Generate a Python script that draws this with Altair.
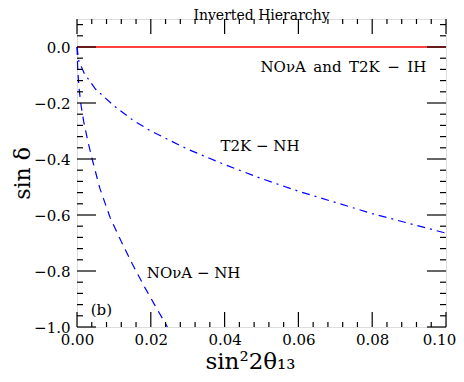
import altair as alt
import pandas as pd

# ---- data ----
nova_x = [0.0, 0.0002, 0.0005, 0.001, 0.0018, 0.003, 0.0041, 0.0062, 0.009, 0.012, 0.015, 0.018, 0.021, 0.0245]
nova_y = [0.0, -0.08, -0.14, -0.20, -0.265, -0.34, -0.40, -0.505, -0.61, -0.695, -0.775, -0.85, -0.92, -1.0]

t2k_x = [0.0, 0.0005, 0.002, 0.005, 0.01, 0.015, 0.02, 0.03, 0.04, 0.05, 0.06, 0.07, 0.08, 0.09, 0.1]
t2k_y = [0.0, -0.05, -0.095, -0.15, -0.21, -0.26, -0.30, -0.365, -0.42, -0.47, -0.515, -0.555, -0.595, -0.63, -0.665]

ih_x = [0.0, 0.1]
ih_y = [0.0, 0.0]

label_text = ["NOνA\u2002and\u2002T2K\u2002−\u2002IH", "T2K − NH", "NOνA − NH", "(b)"]
label_x = [0.0722, 0.0496, 0.0316, 0.0066]
label_y = [-0.072, -0.353, -0.808, -0.94]

x_major = [0.0, 0.02, 0.04, 0.06, 0.08, 0.1]
x_minor = [round(i * 0.004, 3) for i in range(26) if i % 5 != 0]
y_major = [-1.0, -0.8, -0.6, -0.4, -0.2, 0.0]
y_minor = [round(-1.0 + i * 0.04, 2) for i in range(28) if i % 5 != 0]

W, H = 369, 308
SERIF = "DejaVu Serif"

xs = alt.Scale(domain=[0, 0.1], nice=False, zero=False)
ys = alt.Scale(domain=[-1.0, 0.1], nice=False, zero=False)

xaxis = alt.Axis(values=x_major, format=".2f", ticks=False, tickSize=0, domain=False, grid=False,
                 labelFont=SERIF, labelFontSize=15, labelColor="black", labelPadding=5, labelFlush=False,
                 labelOffset={"condition": {"test": "datum.value >= 0.099", "value": -7}, "value": 0},
                 title="sin²2θ₁₃", titleFont=SERIF, titleFontSize=23, titleFontWeight="normal",
                 titleColor="black", titleX=173, titleY=41, titleBaseline="alphabetic")
yaxis = alt.Axis(values=y_major, format=".1f", ticks=False, tickSize=0, domain=False, grid=False,
                 labelFont=SERIF, labelFontSize=15, labelColor="black", labelPadding=7, labelFlush=False,
                 title="sin δ", titleFont=SERIF, titleFontSize=22, titleFontWeight="normal",
                 titleColor="black", titleX=-55, titleY=H / 2, titleAngle=-90,
                 titleBaseline="middle", titleAlign="center")


def X(field):
    return alt.X(field, scale=xs, axis=xaxis)


def Y(field):
    return alt.Y(field, scale=ys, axis=yaxis)


ih_df = pd.DataFrame({"x": ih_x, "y": ih_y})
nova_df = pd.DataFrame({"x": nova_x, "y": nova_y})
t2k_df = pd.DataFrame({"x": t2k_x, "y": t2k_y})
lab_df = pd.DataFrame({"x": label_x, "y": label_y, "t": label_text})

ih = alt.Chart(ih_df).mark_line(color="#ff0000", strokeWidth=1.3).encode(x=X("x:Q"), y=Y("y:Q"))

nova = alt.Chart(nova_df).mark_line(color="#0000ff", strokeWidth=1.2, strokeDash=[8, 6]).encode(
    x=X("x:Q"), y=Y("y:Q"))

t2k = alt.Chart(t2k_df).mark_line(color="#0000ff", strokeWidth=1.2, strokeDash=[8, 5, 2, 5]).encode(
    x=X("x:Q"), y=Y("y:Q"))

labels = alt.Chart(lab_df).mark_text(font=SERIF, fontSize=15, color="black",
                                     align="center", baseline="middle").encode(
    x=X("x:Q"), y=Y("y:Q"), text="t:N")


def xticks(vals, length):
    df = pd.DataFrame({"v": vals})
    bot = alt.Chart(df).mark_rule(color="black", strokeWidth=1.2).encode(
        x=X("v:Q"), y=alt.value(H), y2=alt.value(H - length))
    top = alt.Chart(df).mark_rule(color="black", strokeWidth=1.2).encode(
        x=X("v:Q"), y=alt.value(0), y2=alt.value(length))
    return [bot, top]


def yticks(vals, length):
    df = pd.DataFrame({"v": vals})
    left = alt.Chart(df).mark_rule(color="black", strokeWidth=1.2).encode(
        y=Y("v:Q"), x=alt.value(0), x2=alt.value(length))
    right = alt.Chart(df).mark_rule(color="black", strokeWidth=1.2).encode(
        y=Y("v:Q"), x=alt.value(W), x2=alt.value(W - length))
    return [left, right]


tick_layers = xticks(x_major, 15) + xticks(x_minor, 5) + yticks(y_major, 19) + yticks(y_minor, 6)

chart = alt.layer(ih, nova, t2k, labels, *tick_layers).properties(
    width=W, height=H,
    title=alt.TitleParams("Inverted Hierarchy", font=SERIF, fontSize=14, fontWeight="normal",
                          color="black", offset=-5, anchor="middle"),
    autosize=alt.AutoSizeParams(type="none"),
    padding={"left": 69, "top": 11, "right": 10, "bottom": 47},
).configure_view(stroke="black", strokeWidth=1.5).configure(background="white")

chart.save("out.html", embed_options={"renderer": "svg", "actions": False})
